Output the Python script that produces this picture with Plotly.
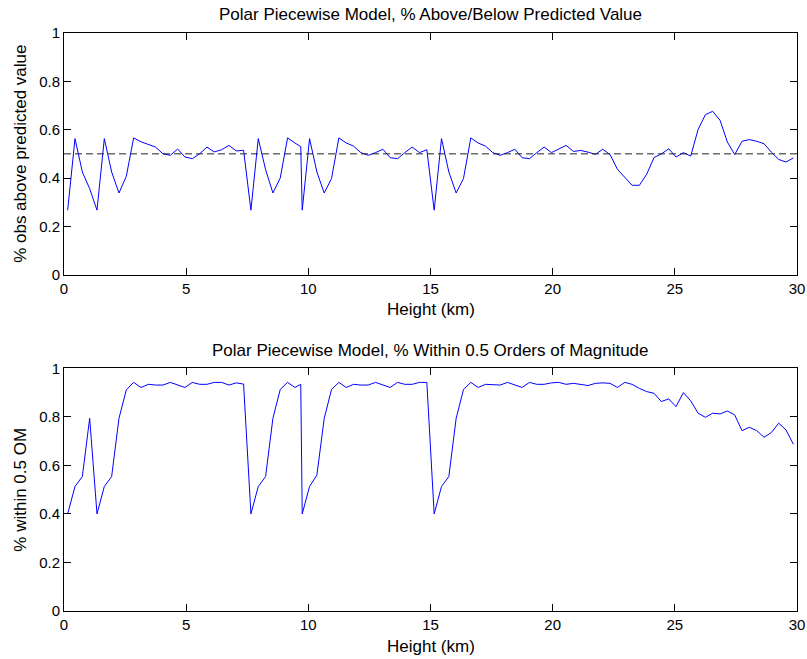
import plotly.graph_objects as go

heights = [0.15, 0.45, 0.75, 1.05, 1.35, 1.65, 1.95, 2.25, 2.55, 2.85,
           3.15, 3.45, 3.75, 4.05, 4.35, 4.65, 4.95, 5.25, 5.55, 5.85,
           6.15, 6.45, 6.75, 7.05, 7.35, 7.65, 7.95, 8.25, 8.55, 8.85,
           9.15, 9.45, 9.69, 9.75, 10.05, 10.35, 10.65, 10.95, 11.25, 11.55,
           11.85, 12.15, 12.45, 12.75, 13.05, 13.35, 13.65, 13.95, 14.25, 14.55,
           14.85, 15.15, 15.45, 15.75, 16.05, 16.35, 16.65, 16.95, 17.25, 17.55,
           17.85, 18.15, 18.45, 18.75, 19.05, 19.35, 19.65, 19.95, 20.25, 20.55,
           20.85, 21.15, 21.45, 21.75, 22.05, 22.35, 22.65, 22.95, 23.25, 23.55,
           23.85, 24.15, 24.45, 24.75, 25.05, 25.35, 25.65, 25.95, 26.25, 26.55,
           26.85, 27.15, 27.45, 27.75, 28.05, 28.35, 28.65, 28.95, 29.25, 29.55, 29.85]

pct_above = [0.267, 0.563, 0.425, 0.356, 0.267, 0.563, 0.425, 0.338, 0.407, 0.566,
             0.55, 0.54, 0.528, 0.5, 0.494, 0.52, 0.487, 0.48, 0.5, 0.528,
             0.508, 0.517, 0.535, 0.512, 0.515, 0.267, 0.563, 0.435, 0.338, 0.4,
             0.566, 0.545, 0.53, 0.267, 0.563, 0.425, 0.338, 0.398, 0.566, 0.545,
             0.532, 0.505, 0.494, 0.505, 0.519, 0.484, 0.48, 0.505, 0.528, 0.505,
             0.517, 0.267, 0.563, 0.425, 0.338, 0.398, 0.566, 0.545, 0.532, 0.505,
             0.494, 0.505, 0.519, 0.484, 0.48, 0.505, 0.528, 0.505, 0.519, 0.535,
             0.51, 0.514, 0.507, 0.498, 0.519, 0.497, 0.436, 0.404, 0.37, 0.37,
             0.416, 0.485, 0.5, 0.521, 0.487, 0.505, 0.491, 0.6, 0.662, 0.676,
             0.639, 0.549, 0.497, 0.552, 0.559, 0.552, 0.542, 0.507, 0.477, 0.466, 0.483]

pct_within = [0.4, 0.513, 0.554, 0.794, 0.4, 0.513, 0.554, 0.794, 0.911, 0.942,
              0.921, 0.934, 0.931, 0.931, 0.942, 0.931, 0.921, 0.942, 0.934, 0.934,
              0.942, 0.942, 0.931, 0.94, 0.935, 0.4, 0.513, 0.554, 0.794, 0.913,
              0.942, 0.921, 0.934, 0.4, 0.513, 0.56, 0.794, 0.913, 0.942, 0.921,
              0.934, 0.931, 0.931, 0.942, 0.931, 0.921, 0.942, 0.934, 0.934, 0.942,
              0.942, 0.4, 0.513, 0.554, 0.794, 0.913, 0.942, 0.921, 0.934, 0.931,
              0.931, 0.942, 0.931, 0.921, 0.942, 0.934, 0.934, 0.94, 0.942, 0.934,
              0.938, 0.934, 0.929, 0.938, 0.94, 0.938, 0.921, 0.942, 0.934, 0.917,
              0.904, 0.897, 0.863, 0.874, 0.842, 0.9, 0.866, 0.815, 0.798, 0.815,
              0.812, 0.824, 0.808, 0.743, 0.757, 0.743, 0.716, 0.735, 0.774, 0.746, 0.687]

ref_x = [0, 30]
ref_y = [0.5, 0.5]

x_ticks = [0, 5, 10, 15, 20, 25, 30]
y_ticks = [0, 0.2, 0.4, 0.6, 0.8, 1]
y_tick_labels = ["0", "0.2", "0.4", "0.6", "0.8", "1"]

title_top = "Polar Piecewise Model, % Above/Below Predicted Value"
title_bottom = "Polar Piecewise Model, % Within 0.5 Orders of Magnitude"
xlabel = "Height (km)"
ylabel_top = "% obs above predicted value"
ylabel_bottom = "% within 0.5 OM"

FONT = "Liberation Sans, Arial, sans-serif"
TICK_SIZE = 15
LABEL_SIZE = 17

fig = go.Figure()
fig.add_trace(go.Scatter(x=heights, y=pct_above, mode="lines",
                         line=dict(color="#0000FF", width=1),
                         xaxis="x", yaxis="y", showlegend=False))
fig.add_trace(go.Scatter(x=ref_x, y=ref_y, mode="lines",
                         line=dict(color="#222222", width=1, dash="7px,4px"),
                         xaxis="x", yaxis="y", showlegend=False))
fig.add_trace(go.Scatter(x=heights, y=pct_within, mode="lines",
                         line=dict(color="#0000FF", width=1),
                         xaxis="x2", yaxis="y2", showlegend=False))

W, H = 807, 659
ML, MR, MT, MB = 64, 10, 33, 48
PH = H - MT - MB

def py(px):
    return 1 - (px - MT) / PH

def px_x(px):
    return (px - ML) / (W - ML - MR)

axis_common = dict(
    showgrid=False, zeroline=False, showline=True, linecolor="black", linewidth=1,
    mirror="ticks", ticks="inside", ticklen=7, tickcolor="black", tickwidth=1,
    automargin=False,
    tickfont=dict(family=FONT, size=TICK_SIZE, color="black"),
)

fig.update_layout(
    width=W, height=H,
    margin=dict(l=ML, r=MR, t=MT, b=MB, pad=0, autoexpand=False),
    paper_bgcolor="white", plot_bgcolor="white",
    font=dict(family=FONT, color="black"),
    xaxis=dict(domain=[0, 1], range=[0, 30], tickvals=x_ticks, anchor="y", **axis_common),
    yaxis=dict(domain=[py(274.7), 1], range=[0, 1], tickvals=y_ticks, ticktext=y_tick_labels,
               anchor="x", **axis_common),
    xaxis2=dict(domain=[0, 1], range=[0, 30], tickvals=x_ticks, anchor="y2", **axis_common),
    yaxis2=dict(domain=[0, py(368.3)], range=[0, 1], tickvals=y_ticks, ticktext=y_tick_labels,
                anchor="x2", **axis_common),
)

ann = [
    dict(text=title_top, x=0.5, y=py(14.5), xref="paper", yref="paper",
         xanchor="center", yanchor="middle", showarrow=False,
         font=dict(family=FONT, size=LABEL_SIZE, color="black")),
    dict(text=title_bottom, x=0.5, y=py(350), xref="paper", yref="paper",
         xanchor="center", yanchor="middle", showarrow=False,
         font=dict(family=FONT, size=LABEL_SIZE, color="black")),
    dict(text=xlabel, x=0.5, y=py(309), xref="paper", yref="paper",
         xanchor="center", yanchor="middle", showarrow=False,
         font=dict(family=FONT, size=LABEL_SIZE, color="black")),
    dict(text=xlabel, x=0.5, y=py(646), xref="paper", yref="paper",
         xanchor="center", yanchor="middle", showarrow=False,
         font=dict(family=FONT, size=LABEL_SIZE, color="black")),
    dict(text=ylabel_top, x=px_x(21), y=py((33 + 274.7) / 2), xref="paper", yref="paper",
         xanchor="center", yanchor="middle", textangle=-90, showarrow=False,
         font=dict(family=FONT, size=LABEL_SIZE, color="black")),
    dict(text=ylabel_bottom, x=px_x(21), y=py((368.3 + 611) / 2), xref="paper", yref="paper",
         xanchor="center", yanchor="middle", textangle=-90, showarrow=False,
         font=dict(family=FONT, size=LABEL_SIZE, color="black")),
]
fig.update_layout(annotations=ann)

fig.write_html("out.html")
